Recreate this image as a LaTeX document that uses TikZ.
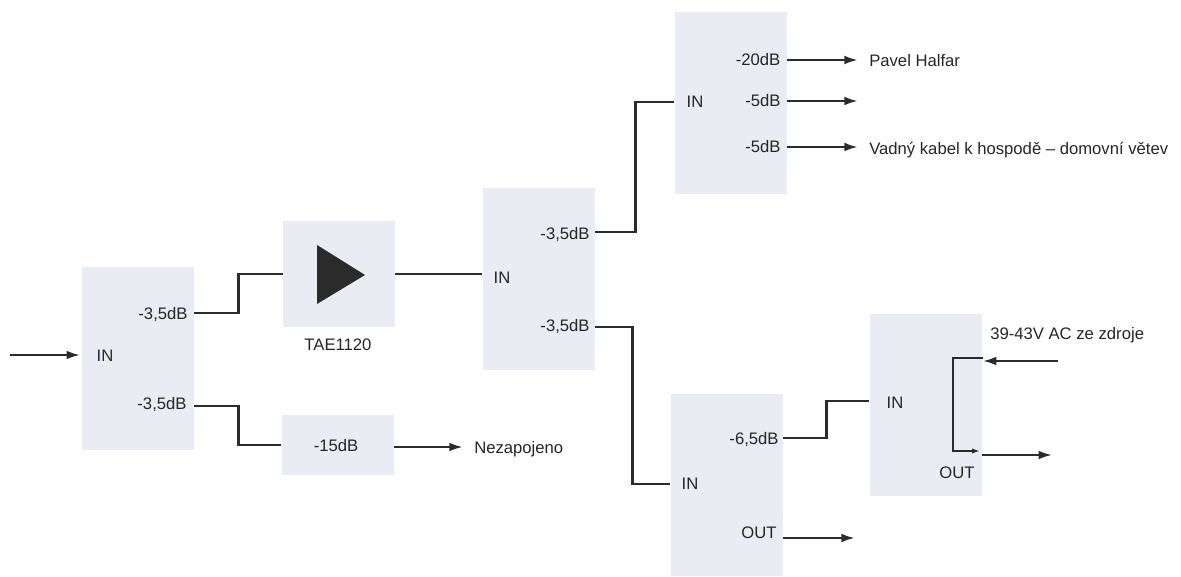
\documentclass[tikz,border=0pt]{standalone}
\usepackage{fontspec}
\setmainfont{Liberation Sans}
\usetikzlibrary{arrows.meta}
\definecolor{blockfill}{HTML}{EBEBF4}
\definecolor{wirecolor}{HTML}{2B2B2B}
\tikzset{
    blockbox/.style={fill=blockfill, minimum width=84pt, minimum height=137pt, inner sep=0pt},
    label/.style={font=\fontsize{12.5}{14}\selectfont, text=black!85, inner sep=0pt},
    wire/.style={wirecolor, line width=2pt},
    feed/.style={wirecolor, line width=1.6pt, -{Latex[length=10pt,width=6.5pt]}}
}
\begin{document}
\begin{tikzpicture}[x=0.75pt, y=-0.75pt]
    \useasboundingbox (0,0) rectangle (1181,577);

    % Blocks
    \node[blockbox] (splitA) at (138,358.5) {};
    \node[blockbox, minimum height=79.5pt] (amp) at (339,274) {};
    \node[blockbox, minimum height=45pt] (atten) at (337.5,445) {};
    \node[blockbox] (splitB) at (538.5,279) {};
    \node[blockbox] (tapC) at (730.5,103) {};
    \node[blockbox] (tapD) at (726.5,485) {};
    \node[blockbox] (feedE) at (925.5,405) {};
    \fill[wirecolor] (317,245) -- (365,275) -- (317,304) -- cycle;

    % Labels
    \node[label] (inA) at (105,356) {IN};
    \node[label] (a1) at (163,315) {-3,5dB};
    \node[label] (a2) at (162,405) {-3,5dB};
    \node[label] (tae) at (338,345) {TAE1120};
    \node[label] (db15) at (336,446) {-15dB};
    \node[label, anchor=west] (nez) at (474,449) {Nezapojeno};
    \node[label] (inB) at (502,278) {IN};
    \node[label] (b1) at (565,235) {-3,5dB};
    \node[label] (b2) at (565,327) {-3,5dB};
    \node[label] (inC) at (695,102) {IN};
    \node[label] (c1) at (758,60) {-20dB};
    \node[label] (c2) at (763,101) {-5dB};
    \node[label] (c3) at (763,147) {-5dB};
    \node[label, anchor=west] (pavel) at (869,61) {Pavel Halfar};
    \node[label, anchor=west] (vadny) at (869,150) {Vadný kabel k hospodě – domovní větev};
    \node[label] (inD) at (690,484) {IN};
    \node[label] (d1) at (754,440) {-6,5dB};
    \node[label] (outD) at (759,533) {OUT};
    \node[label] (inE) at (895,403) {IN};
    \node[label] (outE) at (957,473) {OUT};
    \node[label, anchor=west] (ac) at (990,335) {39-43V AC ze zdroje};

    % Free ends
    \coordinate (src) at (10,355);
    \coordinate (acsrc) at (1058,361);
    \coordinate (acin) at (983,361);
    \coordinate (acnode) at (983,358);
    \coordinate (acbend) at (953,451);
    \coordinate (acout) at (980,451);
    \coordinate (acstart) at (982,455);
    \coordinate (acend) at (1052,455);

    % Connections
    \draw[feed] (src) -- ++(70,0);
    \draw[wire] (splitA.east |- 194,313) -- ++(44,0) |- (amp.west);
    \draw[wire] (splitA.east |- a2) ++(0,1) -- ++(44,0) |- (atten.west);
    \draw[wire] (amp.east) -- (splitB.west |- amp.east);
    \draw[wire] (splitB.east |- b1) ++(0,-3) -- ++(41,0) |- (tapC.west |- inC);
    \draw[wire] (splitB.east |- b2) -- ++(38,0) |- (tapD.west |- inD);
    \draw[wire] (tapD.east |- d1) ++(0,-2) -- ++(44,0) |- (feedE.west |- 869,401);
    \draw[feed] (atten.east) ++(0,2) -- ++(69,0);
    \draw[feed] (tapC.east |- c1) -- ++(71,0);
    \draw[feed] (tapC.east |- c2) -- ++(71,0);
    \draw[feed] (tapC.east |- c3) -- ++(71,0);
    \draw[feed] (tapD.east |- outD) ++(0,5) -- ++(72,0);
    \draw[feed] (acsrc) -- (acin);
    \draw[wire, line width=1.5pt, -{Latex[length=6pt,width=4pt]}] (acnode) -| (acbend) -- (acout);
    \draw[feed] (acstart) -- (acend);
\end{tikzpicture}
\end{document}
